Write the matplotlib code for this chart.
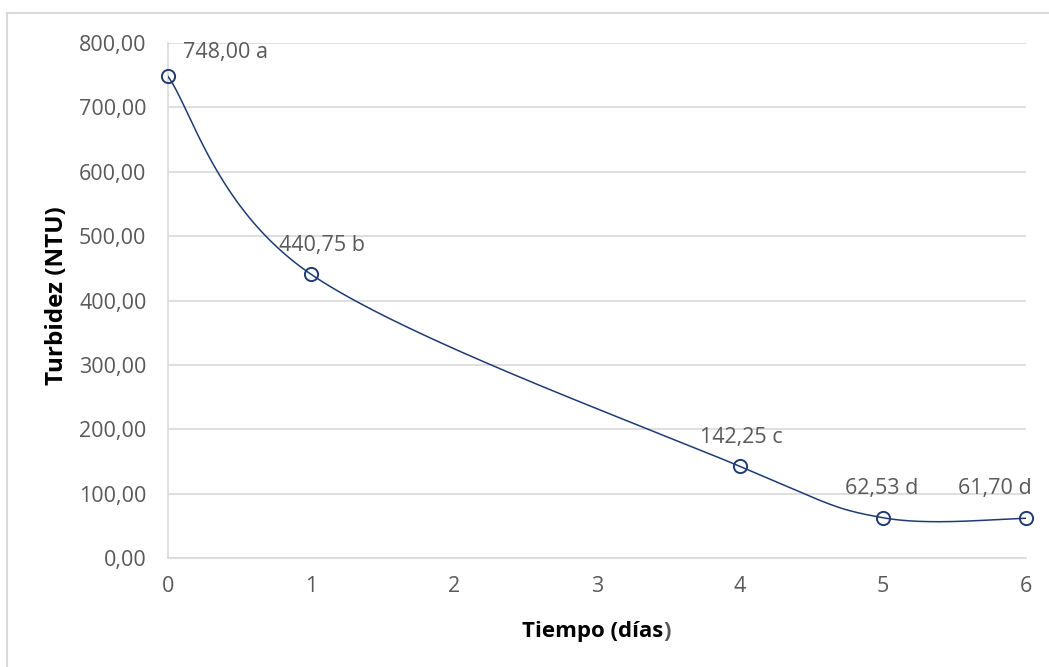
import numpy as np
import matplotlib
matplotlib.use("Agg")
import matplotlib.pyplot as plt
from matplotlib.lines import Line2D

plt.rcParams['font.family'] = ['Open Sans', 'DejaVu Sans']

dias = [0, 1, 4, 5, 6]
turbidez = [748.00, 440.75, 142.25, 62.53, 61.70]
etiquetas = ["748,00 a", "440,75 b", "142,25 c", "62,53 d", "61,70 d"]
yticks = [0, 100, 200, 300, 400, 500, 600, 700, 800]
xticks = [0, 1, 2, 3, 4, 5, 6]

W, H = 1049, 667
fig = plt.figure(figsize=(W / 100, H / 100), dpi=100)
L, R, T, B = 168, 1026, 43, 558
ax = fig.add_axes([L / W, 1 - B / H, (R - L) / W, (B - T) / H])

line_col = "#1F3B73"
grid_col = "#D9D9D9"
txt_col = "#595959"

# Excel-like smoothed line (Catmull-Rom Bezier in screen-normalized space)
sx, sy = (R - L) / 6.0, (B - T) / 800.0
P = np.array([[x * sx, y * sy] for x, y in zip(dias, turbidez)])
n = len(P)
curve = []
t = np.linspace(0, 1, 80)
for i in range(n - 1):
    p0 = P[i - 1] if i > 0 else P[i]
    p1 = P[i]
    p2 = P[i + 1]
    p3 = P[i + 2] if i + 2 < n else P[i + 1]
    c1 = p1 + (p2 - p0) / 6.0
    c2 = p2 - (p3 - p1) / 6.0
    seg = ((1 - t) ** 3)[:, None] * p1 + (3 * (1 - t) ** 2 * t)[:, None] * c1 \
        + (3 * (1 - t) * t ** 2)[:, None] * c2 + (t ** 3)[:, None] * p2
    curve.append(seg)
curve = np.vstack(curve)
ax.plot(curve[:, 0] / sx, curve[:, 1] / sy, color=line_col, lw=1.1, zorder=3)
ax.plot(dias, turbidez, linestyle="none", marker="o", markersize=9.5,
        markerfacecolor="none", markeredgecolor=line_col, markeredgewidth=1.4,
        zorder=4, clip_on=False)

# (dx, dy) in pixels: label anchor relative to point
offsets = [(15, 18), (11, 23), (1, 23), (-1, 24), (-31, 24)]
for i, (x, y, lab) in enumerate(zip(dias, turbidez, etiquetas)):
    dx, dy = offsets[i]
    ha = "left" if i == 0 else "center"
    ax.annotate(lab, (x, y), xytext=(dx, dy), textcoords="offset pixels",
                ha=ha, va="baseline", fontsize=15.5, color=txt_col)

ax.set_xlim(0, 6)
ax.set_ylim(0, 800)
ax.set_xticks(xticks)
ax.set_yticks(yticks)
ax.set_yticklabels([f"{v:.2f}".replace(".", ",") for v in yticks])
ax.tick_params(axis="y", length=0, labelsize=15.5, colors=txt_col, pad=15.5)
ax.tick_params(axis="x", length=0, labelsize=15.5, colors=txt_col, pad=13)
ax.grid(axis="y", color=grid_col, lw=1.2)
ax.set_axisbelow(True)
for s in ["top", "right"]:
    ax.spines[s].set_visible(False)
for s in ["left", "bottom"]:
    ax.spines[s].set_color(grid_col)
    ax.spines[s].set_linewidth(1.2)

# axis titles
fig.text(57 / W, 1 - 296 / H, "Turbidez (NTU)", rotation=90, ha="center", va="center",
         fontsize=17.5, fontweight="bold", color="black")
xt = fig.text(593 / W, 1 - 637 / H, "Tiempo (días", ha="center", va="baseline",
              fontsize=16, fontweight="bold", color="black")
fig.canvas.draw()
bb = xt.get_window_extent(renderer=fig.canvas.get_renderer())
fig.text(bb.x1 / W / (fig.dpi / 100), 1 - 637 / H, ")", ha="left", va="baseline",
         fontsize=16, fontweight="bold", color=txt_col)

# outer chart border (top and left visible)
fig.add_artist(Line2D([7 / W, 1], [1 - 13 / H, 1 - 13 / H], transform=fig.transFigure,
                      color=grid_col, lw=1.5))
fig.add_artist(Line2D([7 / W, 7 / W], [0, 1 - 13 / H], transform=fig.transFigure,
                      color=grid_col, lw=1.5))

fig.savefig("out.png", dpi=100, facecolor="white")
